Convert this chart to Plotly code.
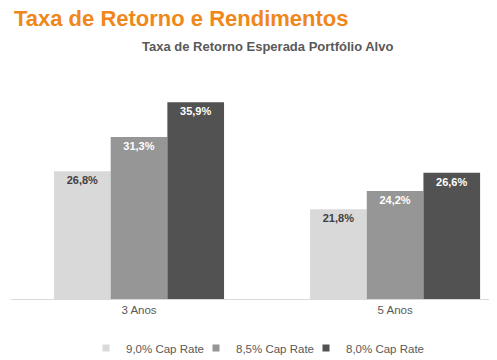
import plotly.graph_objects as go

categories = ["3 Anos", "5 Anos"]
series_names = ["9,0% Cap Rate", "8,5% Cap Rate", "8,0% Cap Rate"]
values_90 = [26.8, 21.8]
values_85 = [31.3, 24.2]
values_80 = [35.9, 26.6]

colors = ["#d9d9d9", "#969696", "#525252"]
label_colors = ["#404040", "#ffffff", "#ffffff"]
legend_widths = [65, 65, 80]

# The page body adds an 8px margin, so the figure is drawn 8px smaller.
W, H = 489, 352

fig = go.Figure()
for name, vals, col, lc, lw in zip(series_names, [values_90, values_85, values_80],
                                   colors, label_colors, legend_widths):
    fig.add_trace(go.Bar(
        x=categories, y=vals, name=name,
        marker=dict(color=col, line=dict(width=0)),
        text=[f"{v:.1f}%".replace(".", ",") for v in vals],
        textposition="inside", insidetextanchor="end", textangle=0,
        constraintext="none",
        textfont=dict(family="Liberation Sans, Arial, sans-serif", size=11, color=lc, weight="bold"),
        showlegend=False,
    ))
    fig.add_trace(go.Scatter(
        x=[None], y=[None], mode="markers", name=name,
        marker=dict(symbol="square", size=7, color=col),
        showlegend=True, legendwidth=lw,
    ))

fig.update_layout(
    width=W, height=H,
    margin=dict(l=3, r=0, t=63, b=61, autoexpand=False),
    paper_bgcolor="white", plot_bgcolor="white",
    barmode="group", bargap=0.336, bargroupgap=0,
    font=dict(family="Liberation Sans, Arial, sans-serif", color="#595959", size=11),
    title=dict(
        text="Taxa de Retorno e Rendimentos",
        font=dict(family="Liberation Sans, Arial, sans-serif", size=22, color="#f0871a", weight="bold"),
        xref="container", yref="container", x=6/W, y=1 - 3/H,
        xanchor="left", yanchor="top", pad=dict(t=0, b=0, l=0, r=0),
    ),
    xaxis=dict(
        type="category", range=[-0.5, 1.398],
        showline=True, linecolor="#d9d9d9", linewidth=1,
        ticks="", showgrid=False, tickfont=dict(size=11.5, color="#595959"),
    ),
    yaxis=dict(range=[10, 40], visible=False, showgrid=False),
    legend=dict(
        orientation="h", x=(78 - 3) / 486, xanchor="left", y=-0.215, yanchor="middle",
        font=dict(size=11.5, color="#595959"), itemwidth=30, tracegroupgap=0,
    ),
    annotations=[dict(
        text="Taxa de Retorno Esperada Portfólio Alvo",
        xref="paper", yref="paper", x=(259 - 3) / 486, y=(291 - 39) / 228,
        xanchor="center", yanchor="middle", showarrow=False,
        font=dict(family="Liberation Sans, Arial, sans-serif", size=13, color="#595959", weight="bold"),
    )],
)

fig.write_html("out.html")
